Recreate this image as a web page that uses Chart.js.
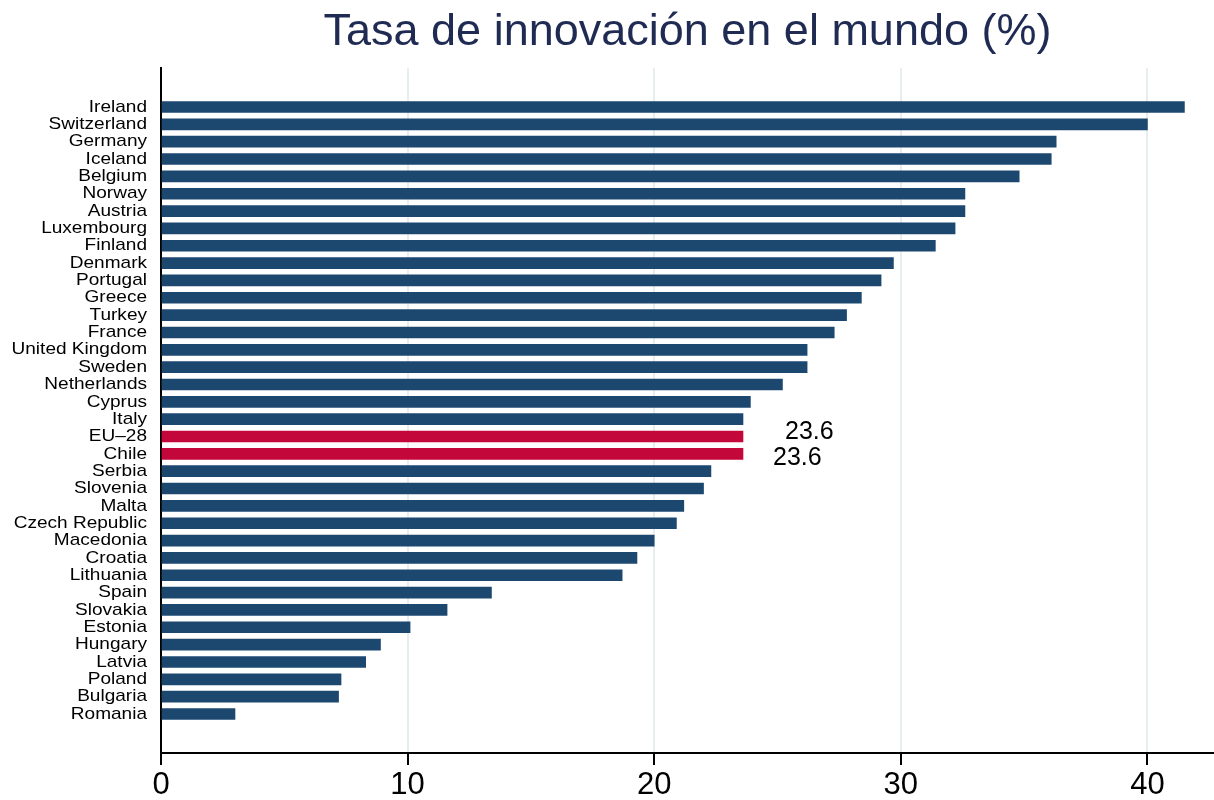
<!DOCTYPE html>
<html>
<head>
<meta charset="utf-8">
<script src="https://cdn.jsdelivr.net/npm/chart.js@4"></script>
<style>
  html, body { margin: 0; padding: 0; background: #fff; }
  #wrap { width: 1214px; height: 800px; }
</style>
</head>
<body>
<div id="wrap"><canvas id="myChart"></canvas></div>
<script>
// data
const countries = [
  "Ireland", "Switzerland", "Germany", "Iceland", "Belgium", "Norway", "Austria",
  "Luxembourg", "Finland", "Denmark", "Portugal", "Greece", "Turkey", "France",
  "United Kingdom", "Sweden", "Netherlands", "Cyprus", "Italy", "EU\u201328", "Chile",
  "Serbia", "Slovenia", "Malta", "Czech Republic", "Macedonia", "Croatia",
  "Lithuania", "Spain", "Slovakia", "Estonia", "Hungary", "Latvia", "Poland",
  "Bulgaria", "Romania"
];
const rates = [
  41.5, 40.0, 36.3, 36.1, 34.8, 32.6, 32.6,
  32.2, 31.4, 29.7, 29.2, 28.4, 27.8, 27.3,
  26.2, 26.2, 25.2, 23.9, 23.6, 23.6, 23.6,
  22.3, 22.0, 21.2, 20.9, 20.0, 19.3,
  18.7, 13.4, 11.6, 10.1, 8.9, 8.3, 7.3,
  7.2, 3.0
];
const highlighted = ["EU\u201328", "Chile"];
const xTicks = [0, 10, 20, 30, 40];

const navy = "#1c4870";
const red = "#c4073a";
const fontFamily = "'Liberation Sans', Arial, sans-serif";

window.onload = () => {
  const ctx = document.getElementById("myChart").getContext("2d");

  // country names (a bit wider than normal, like the original) + value labels
  const labelPlugin = {
    id: "valueLabels",
    afterDatasetsDraw(chart) {
      const c = chart.ctx;
      const xs = chart.scales.x;
      const ys = chart.scales.y;
      c.save();
      c.fillStyle = "#000";
      c.textBaseline = "middle";

      c.font = "17px " + fontFamily;
      c.textAlign = "right";
      countries.forEach((name, i) => {
        c.save();
        c.translate(xs.left - 14, ys.getPixelForValue(i));
        c.scale(1.12, 1);
        c.fillText(name, 0, 0);
        c.restore();
      });

      c.font = "25px " + fontFamily;
      c.textAlign = "left";
      highlighted.forEach((name, k) => {
        const i = countries.indexOf(name);
        const x = xs.getPixelForValue(rates[i]) + (k === 0 ? 42 : 30);
        const y = ys.getPixelForValue(i) + (k === 0 ? -4 : 4);
        c.fillText(rates[i].toFixed(1), x, y);
      });
      c.restore();
    }
  };

  const myChart = new Chart(ctx, {
    type: "bar",
    data: {
      datasets: [
        {
          data: rates.map((v, i) => ({ x: v, y: i })),
          backgroundColor: countries.map((n) => highlighted.includes(n) ? red : navy),
          barThickness: 11,
          borderWidth: 0,
        },
      ],
    },
    options: {
      indexAxis: "y",
      responsive: true,
      maintainAspectRatio: false,
      animation: false,
      layout: { padding: 0 },
      plugins: {
        legend: { display: false },
        tooltip: { enabled: false },
        title: {
          display: true,
          text: "Tasa de innovaci\u00f3n en el mundo (%)",
          fullSize: false,
          color: "#1f2b52",
          font: { family: fontFamily, size: 45, weight: "normal" },
          padding: { top: 6, bottom: 8 },
        },
      },
      scales: {
        x: {
          type: "linear",
          min: 0,
          max: 42.7,
          afterBuildTicks: (scale) => {
            scale.ticks = xTicks.map((v) => ({ value: v }));
          },
          afterFit: (scale) => { scale.height = 47; },
          grid: {
            color: (c) => (c.tick && c.tick.value === 0 ? "rgba(0,0,0,0)" : "#e6eef0"),
            lineWidth: 2,
            tickColor: "#000",
            tickLength: 12,
            tickWidth: 2,
          },
          border: { color: "#000", width: 2 },
          ticks: {
            color: "#000",
            padding: 2,
            font: { family: fontFamily, size: 31 },
            maxRotation: 0,
          },
        },
        y: {
          type: "linear",
          reverse: true,
          offset: false,
          min: -2.25,
          max: 37.25,
          afterBuildTicks: (scale) => {
            scale.ticks = countries.map((n, i) => ({ value: i }));
          },
          afterFit: (scale) => { scale.width = 161; },
          grid: { display: false, drawTicks: false },
          border: { color: "#000", width: 2 },
          ticks: { display: false },
        },
      },
    },
    plugins: [labelPlugin],
  });
};
</script>
</body>
</html>
